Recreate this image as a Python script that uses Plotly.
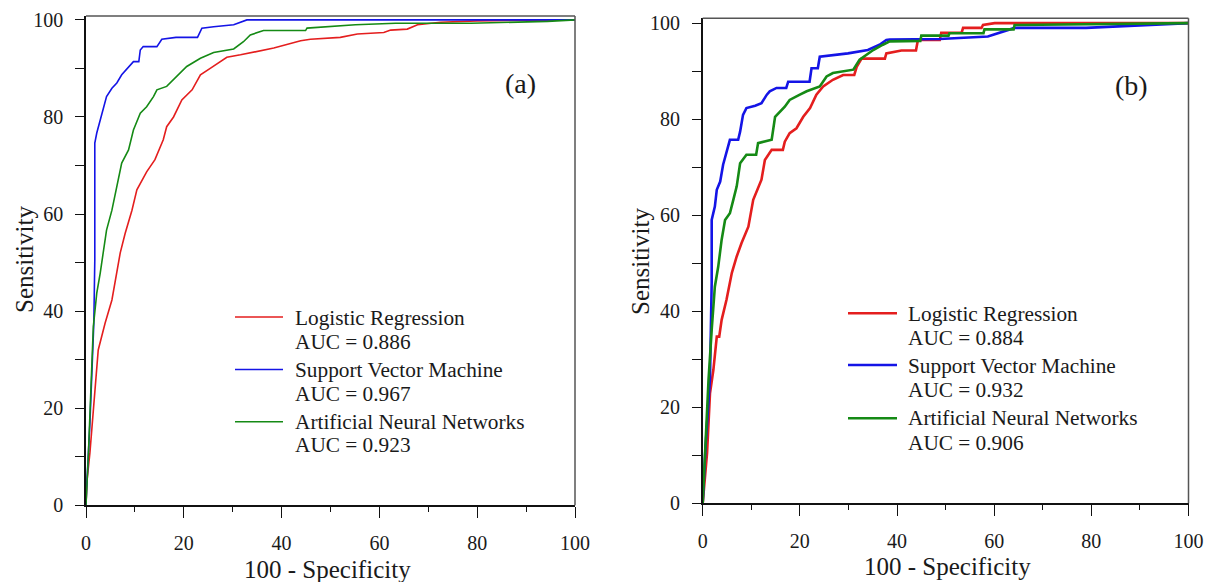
import plotly.graph_objects as go

# ---------------- data ----------------
series_names = ["Logistic Regression", "Support Vector Machine", "Artificial Neural Networks"]
auc_a = ["0.886", "0.967", "0.923"]
auc_b = ["0.884", "0.932", "0.906"]
panel_labels = ["(a)", "(b)"]
tick_major = [0, 20, 40, 60, 80, 100]
tick_minor = [10, 30, 50, 70, 90]

# panel (a)
a_lr_fpr = [0, 0.2, 0.8, 1.5, 2.5, 3.9, 5.3, 7, 8, 9.4, 10.4, 12.4, 14.1, 15.8, 16.5, 17.9, 19.6, 21.7, 23.4, 25.4,
            28.8, 31.6, 34.2, 38.4, 43.9, 45.9, 52, 55.5, 60.9, 62.3, 65.7, 67.8, 72.5, 80, 100]
a_lr_tpr = [0, 5, 10.8, 20.3, 32, 37.5, 42.3, 52, 56, 60.8, 65, 68.7, 71.2, 75.3, 78, 80, 83.5, 85.6, 88.7, 90,
            92.3, 92.8, 93.3, 94.2, 95.7, 96, 96.4, 97.1, 97.4, 97.9, 98.1, 99, 99.5, 99.8, 100]
a_svm_fpr = [0, 0.1, 0.8, 1.6, 1.8, 1.8, 2.2, 2.9, 3.5, 4.2, 5.3, 6.3, 7.3, 8.7, 9.7, 10.8, 11.1, 11.7, 14.5, 15.5,
             18.4, 22.8, 23.7, 26.1, 30.2, 32.9, 100]
a_svm_tpr = [0, 3.1, 16.9, 37.5, 50.6, 74.6, 76.7, 79.4, 81.4, 84.2, 85.9, 87, 88.7, 90.4, 91.4, 91.4, 93.8, 94.5, 94.5, 96,
             96.4, 96.4, 98.3, 98.6, 99, 100, 100]
a_ann_fpr = [0, 0.5, 1.5, 2.2, 2.9, 4.2, 5.3, 6.3, 7.3, 8.7, 9.7, 11.1, 12.4, 13.8, 14.5, 16.5, 18.6, 20.6, 23.4, 26.1,
             30.2, 32.2, 33.6, 36.3, 44.9, 45.2, 55.1, 63.3, 78.7, 94.4, 100]
a_ann_tpr = [0, 10.8, 36.8, 43.7, 47.8, 56.7, 60.8, 65.7, 70.5, 73.2, 77.3, 80.8, 82.1, 84.2, 85.6, 86.3, 88.3, 90.4, 92.1, 93.3,
             94, 95.5, 96.9, 97.8, 97.8, 98.3, 99, 99.3, 99.3, 99.7, 100]

# panel (b)
b_lr_fpr = [0, 0.5, 0.9, 1.5, 2.2, 2.9, 3.4, 3.9, 4.9, 6, 7, 8, 9.4, 10.4, 11.1, 12.1, 12.8, 14.2, 16.5, 16.9,
            17.9, 19.3, 20.7, 22.1, 23.4, 24.8, 26.8, 28.9, 31.2, 31.7, 32.7, 37.5, 37.8, 40.9, 43.9, 44.3, 48.8, 49.1,
            53.3, 53.6, 57.4, 57.7, 60.1, 100]
b_lr_tpr = [0, 5, 10.5, 22.9, 27.8, 34.7, 34.7, 38.2, 42.4, 48, 51.4, 54.2, 57.6, 63.2, 64.9, 67.4, 71.5, 73.6, 73.6, 75.3,
            77.1, 78.1, 80.5, 82.3, 85.1, 86.8, 88.2, 89.2, 89.2, 90.9, 92.6, 92.6, 93.7, 94.3, 94.3, 96.5, 96.5, 98,
            98, 99, 99, 99.6, 100, 100]
b_svm_fpr = [0, 0.6, 1.5, 1.85, 1.85, 2.5, 2.9, 3.6, 4.2, 4.9, 5.6, 7.3, 7.7, 8.3, 9.0, 10.8, 12.1, 13.2, 13.8, 15.2,
             17.2, 17.6, 22.0, 22.4, 23.7, 24.1, 29.9, 34, 36.4, 37.8, 38.5, 48.8, 58.7, 64.2, 78.9, 100]
b_svm_tpr = [0, 12, 26, 46, 59, 61.8, 65.3, 67, 70.5, 73.2, 75.7, 75.7, 77.4, 80.9, 82.3, 82.8, 83.3, 85.1, 85.8, 86.5,
             86.5, 87.8, 87.8, 90.6, 90.6, 93, 93.7, 94.4, 95.5, 96.5, 96.6, 96.7, 97.2, 99, 99, 100]
b_ann_fpr = [0, 0.5, 0.8, 1.2, 1.85, 2.5, 3.2, 3.9, 4.6, 5.6, 6.3, 7, 7.7, 9, 11, 11.4, 14.2, 14.9, 16.9, 17.9,
             20, 21.4, 24.1, 25.5, 26.8, 31, 32.3, 33.7, 35.1, 37.1, 38.5, 44.8, 45, 50.6, 50.8, 57.8, 58, 64, 64.2, 100]
b_ann_tpr = [0, 10.5, 17.4, 25.7, 36.1, 45.1, 49.3, 54.9, 59, 60.4, 63.2, 66, 70.8, 72.6, 72.6, 75, 75.7, 80.5, 82.6, 84,
             85.1, 85.8, 86.8, 88.9, 89.6, 90.3, 92.4, 93.4, 94.4, 95.5, 96.2, 96.3, 97.4, 97.4, 97.9, 97.9, 98.7, 98.7, 99.6, 100]

# ---------------- styling ----------------
W, H = 1206, 582
colors = ["#e41e1e", "#1414e6", "#158a15"]
FONT = "Liberation Serif"
TXT = "#1a1a1a"


def px_x(p):
    return p / W


def px_y(p):
    return 1 - p / H


panels = [
    dict(xa="x", ya="y", xdom=[86 / W, 575 / W], ydom=[px_y(505.3), px_y(16)], yr=[0, 100.8], lw=1.6,
         data=[(a_lr_fpr, a_lr_tpr), (a_svm_fpr, a_svm_tpr), (a_ann_fpr, a_ann_tpr)], auc=auc_a,
         leg_x0=235, leg_x1=283, leg_tx=293, leg_line_y=[317, 369.5, 421.7],
         leg_txt_y=[318, 342, 370, 394, 422, 445],
         lab=(520, 84), ytitle=(24, 260), xtitle=(327, 569)),
    dict(xa="x2", ya="y2", xdom=[702.7 / W, 1188.5 / W], ydom=[px_y(503.3), px_y(18.3)], yr=[0, 101], lw=2.6,
         data=[(b_lr_fpr, b_lr_tpr), (b_svm_fpr, b_svm_tpr), (b_ann_fpr, b_ann_tpr)], auc=auc_b,
         leg_x0=848, leg_x1=897, leg_tx=906, leg_line_y=[313.3, 365, 418.3],
         leg_txt_y=[314, 338.3, 366, 390, 418.3, 443.3],
         lab=(1131, 85), ytitle=(640, 262), xtitle=(947, 566)),
]

fig = go.Figure()
annotations = []
shapes = []
layout_axes = {}

for k, p in enumerate(panels):
    for i, (xs, ys) in enumerate(p["data"]):
        fig.add_trace(go.Scatter(x=xs, y=ys, mode="lines", name=series_names[i],
                                 line=dict(color=colors[i], width=p["lw"]),
                                 xaxis=p["xa"], yaxis=p["ya"], showlegend=False))
    xname = "xaxis" if p["xa"] == "x" else "xaxis2"
    yname = "yaxis" if p["ya"] == "y" else "yaxis2"
    layout_axes[xname] = dict(
        domain=p["xdom"], range=[0, 100], anchor=p["ya"], showgrid=False, zeroline=False,
        showline=True, linecolor="#111", linewidth=1.5, mirror=False,
        tickmode="array", tickvals=tick_major, ticks="outside", ticklen=11, tickwidth=1.3, tickcolor="#111",
        minor=dict(tickvals=tick_minor, ticks="outside", ticklen=5, tickwidth=1.3, tickcolor="#111"),
        tickfont=dict(family=FONT, size=20, color=TXT), ticklabelstandoff=8, automargin=False, fixedrange=True)
    layout_axes[yname] = dict(
        domain=p["ydom"], range=p["yr"], anchor=p["xa"], showgrid=False, zeroline=False,
        showline=True, linecolor="#111", linewidth=1.5, mirror=False,
        tickmode="array", tickvals=tick_major, ticks="outside", ticklen=9, tickwidth=1.3, tickcolor="#111",
        minor=dict(tickvals=tick_minor, ticks="outside", ticklen=9, tickwidth=1.3, tickcolor="#111"),
        tickfont=dict(family=FONT, size=20, color=TXT), ticklabelstandoff=8, automargin=False, fixedrange=True)

    # top and right frame lines (grey)
    xd, yd = p["xdom"], p["ydom"]
    shapes.append(dict(type="line", xref="paper", yref="paper", x0=xd[0], x1=xd[1], y0=yd[1], y1=yd[1],
                       line=dict(color="#555", width=1.5)))
    shapes.append(dict(type="line", xref="paper", yref="paper", x0=xd[1], x1=xd[1], y0=yd[0], y1=yd[1],
                       line=dict(color="#555", width=1.5)))

    # manual legend
    for i in range(3):
        ly = px_y(p["leg_line_y"][i])
        shapes.append(dict(type="line", xref="paper", yref="paper", x0=px_x(p["leg_x0"]), x1=px_x(p["leg_x1"]),
                           y0=ly, y1=ly, line=dict(color=colors[i], width=p["lw"])))
        texts = [series_names[i], "AUC = " + p["auc"][i]]
        for j, t in enumerate(texts):
            annotations.append(dict(x=px_x(p["leg_tx"]), y=px_y(p["leg_txt_y"][2 * i + j]), xref="paper",
                                    yref="paper", text=t, showarrow=False, xanchor="left", yanchor="middle",
                                    font=dict(family=FONT, size=21.3, color=TXT)))
    # panel label
    annotations.append(dict(x=px_x(p["lab"][0]), y=px_y(p["lab"][1]), xref="paper", yref="paper",
                            text=panel_labels[k], showarrow=False, xanchor="center", yanchor="middle",
                            font=dict(family=FONT, size=28, color=TXT)))
    # axis titles
    annotations.append(dict(x=px_x(p["ytitle"][0]), y=px_y(p["ytitle"][1]), xref="paper", yref="paper",
                            text="Sensitivity", showarrow=False, textangle=-90, xanchor="center",
                            yanchor="middle", font=dict(family=FONT, size=25, color=TXT)))
    annotations.append(dict(x=px_x(p["xtitle"][0]), y=px_y(p["xtitle"][1]), xref="paper", yref="paper",
                            text="100 - Specificity", showarrow=False, xanchor="center",
                            yanchor="middle", font=dict(family=FONT, size=25, color=TXT)))

fig.update_layout(
    width=W, height=H, margin=dict(l=0, r=0, t=0, b=0),
    paper_bgcolor="white", plot_bgcolor="white", showlegend=False,
    font=dict(family=FONT, color=TXT),
    annotations=annotations, shapes=shapes, **layout_axes)

fig.write_html("out.html", config={"displayModeBar": False},
               post_script="document.body.style.margin='0';document.body.style.overflow='hidden';")
